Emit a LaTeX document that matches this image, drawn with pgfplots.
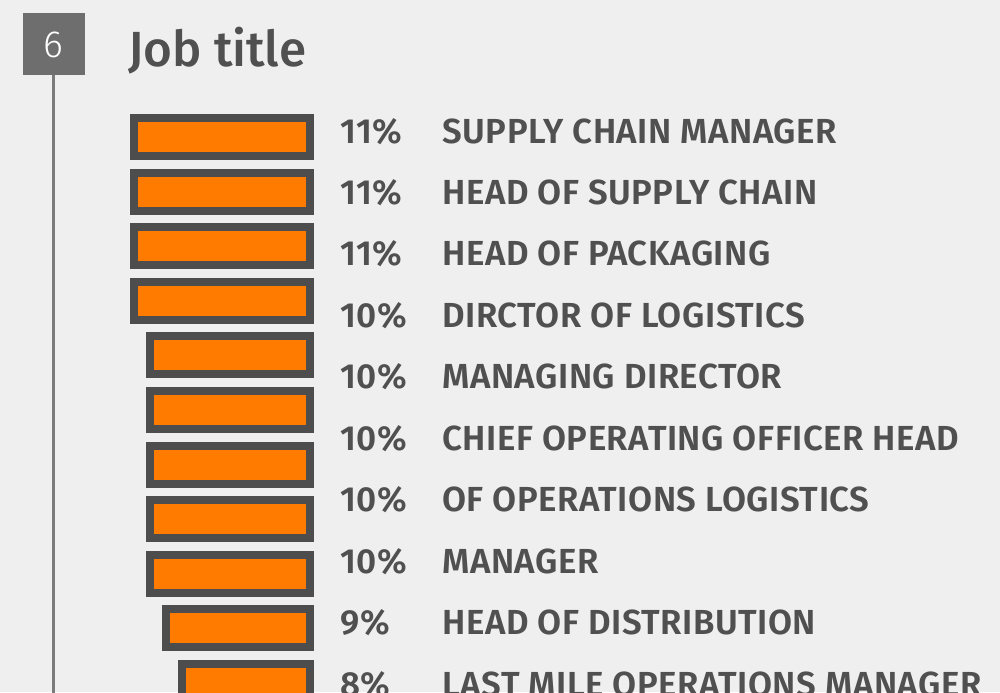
\documentclass[border=0pt]{standalone}
\usepackage{pgfplots}
\pgfplotsset{compat=1.18}
\usepackage{fontspec}
\setmainfont{Fira Sans}[UprightFont=* Medium, BoldFont=* SemiBold]
\newfontfamily\lightfont{Fira Sans Light}
\newfontfamily\labfont{Fira Sans}[UprightFont=* SemiBold, LetterSpace=1.5]
\definecolor{bgcol}{HTML}{EFEFEF}
\definecolor{barline}{HTML}{4D4D4D}
\definecolor{barfill}{HTML}{FF7B00}
\definecolor{boxcol}{HTML}{6E6E6E}
\definecolor{vline}{HTML}{7B7B7B}
\definecolor{txt}{HTML}{505050}
\begin{document}
\begin{tikzpicture}
\fill[bgcol] (0,0) rectangle (500pt,-346pt);
\useasboundingbox (0,0) rectangle (500pt,-346pt);
% number box and vertical line
\draw[vline, line width=1.35pt] (26.85pt,-37pt) -- (26.85pt,-350pt);
\fill[boxcol] (11.5pt,-6.5pt) rectangle (42.5pt,-37.5pt);
\node[anchor=base, inner sep=0pt, text=white, font=\lightfont\fontsize{18.9pt}{20pt}\selectfont] at (26.5pt,-28.65pt) {6};
\node[anchor=base west, inner sep=0pt, text=txt, font=\fontsize{24.7pt}{26pt}\selectfont] at (64pt,-33.35pt) {Job title};
% bars
\begin{axis}[
  at={(155.15pt,-54.85pt)}, anchor=north east,
  scale only axis, width=100pt, height=300.3pt,
  xmin=0, xmax=12.5, x dir=reverse,
  ymin=-0.5, ymax=10.5, y dir=reverse,
  hide axis, clip=false,
  xbar, bar width=19pt, bar shift=0pt,
]
\addplot[draw=barline, fill=barfill, line width=4pt] coordinates {
(11,0) (11,1) (11,2) (11,3) (10,4) (10,5) (10,6) (10,7) (10,8) (9,9) (8,10)};
\end{axis}
% labels
\begin{axis}[
  at={(170.0pt,-65.5pt)}, anchor=north east,
  scale only axis, width=1pt, height=276.5pt,
  xmin=0, xmax=1, ymin=0, ymax=9, y dir=reverse,
  axis x line=none, axis y line*=right,
  y axis line style={draw=none}, major tick length=0pt,
  ytick={0,...,9},
  yticklabels={
    \makebox[51pt][l]{11\%}SUPPLY CHAIN MANAGER,
    \makebox[51pt][l]{11\%}HEAD OF SUPPLY CHAIN,
    \makebox[51pt][l]{11\%}HEAD OF PACKAGING,
    \makebox[51pt][l]{10\%}DIRCTOR OF LOGISTICS,
    \makebox[51pt][l]{10\%}MANAGING DIRECTOR,
    \makebox[51pt][l]{10\%}CHIEF OPERATING OFFICER HEAD,
    \makebox[51pt][l]{10\%}OF OPERATIONS LOGISTICS,
    \makebox[51pt][l]{10\%}MANAGER,
    \makebox[51pt][l]{9\%}HEAD OF DISTRIBUTION,
    \makebox[51pt][l]{8\%}LAST MILE OPERATIONS MANAGER},
  yticklabel style={anchor=base west, inner sep=0pt, xshift=0pt, yshift=-6pt, text=txt, font=\labfont\fontsize{17.4pt}{19pt}\selectfont},
  clip=false,
]
\addplot[draw=none] coordinates {(0,0) (1,9)};
\end{axis}
\end{tikzpicture}
\end{document}
